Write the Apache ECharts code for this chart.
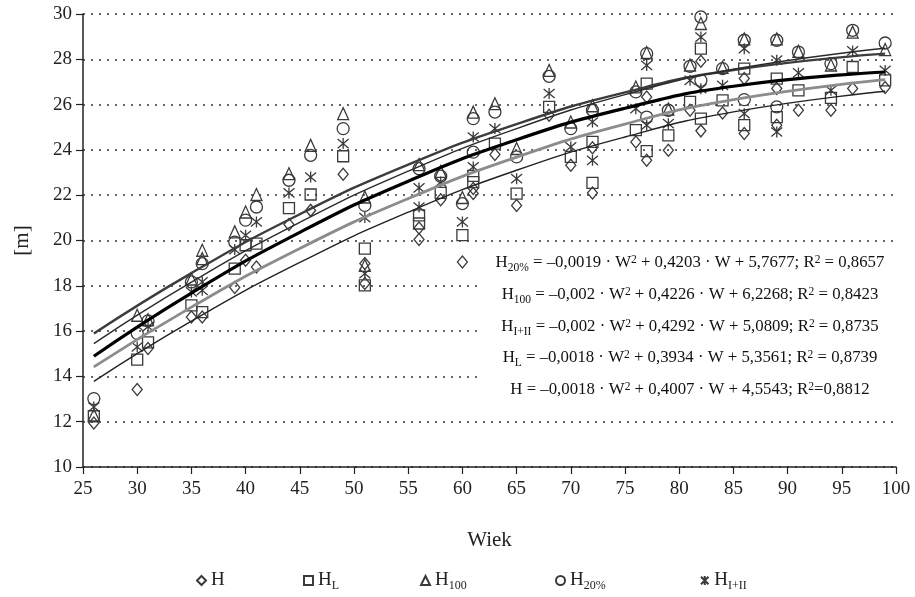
<!DOCTYPE html>
<html><head><meta charset="utf-8">
<script src="https://cdn.jsdelivr.net/npm/echarts@6/dist/echarts.min.js"></script>
<style>html,body{margin:0;padding:0;background:#fff}#c{width:915px;height:597px}</style>
</head><body><div id="c"></div>
<script>
const FONT = '"Liberation Serif", "DejaVu Serif", "Times New Roman", serif';

// Measured points [Wiek, height m]
const H = [[26,11.94],[30,13.42],[31,15.23],[35,16.62],[36,16.62],[39,17.92],[40,19.13],[41,18.83],[44,20.71],[46,21.33],[49,22.92],[51,18.98],[51,18.1],[56,20.55],[56,20.04],[58,21.8],[60,19.05],[61,22.3],[61,22.07],[63,23.8],[65,21.55],[68,25.53],[70,23.32],[72,24.1],[72,22.1],[76,24.35],[77,26.34],[77,23.54],[79,23.98],[81,25.75],[82,27.91],[82,24.84],[84,25.63],[86,27.15],[86,24.72],[89,26.71],[89,25.09],[91,25.75],[94,25.75],[96,26.71],[99,26.75]];
const HL = [[26,12.24],[30,14.74],[31,15.5],[35,17.14],[36,16.84],[39,18.76],[40,19.79],[41,19.86],[44,21.43],[46,22.03],[49,23.72],[51,19.64],[51,18.02],[56,21.11],[56,20.75],[58,22.1],[60,20.24],[61,22.85],[61,22.58],[63,24.28],[65,22.07],[68,25.9],[70,23.69],[72,24.35],[72,22.54],[76,24.87],[77,26.93],[77,23.95],[79,24.64],[81,26.12],[82,28.47],[82,25.38],[84,26.19],[86,27.59],[86,25.09],[89,27.15],[89,25.45],[91,26.63],[94,26.3],[96,27.66],[99,27.07]];
const H100 = [[26,12.3],[30,16.7],[31,16.5],[35,18.3],[36,19.57],[36,19.2],[39,20.38],[40,21.26],[41,22.03],[44,22.95],[46,24.2],[49,25.6],[51,21.92],[51,18.9],[56,23.35],[58,23.05],[60,21.9],[61,25.67],[63,26.04],[65,24.06],[68,27.51],[70,25.23],[72,25.95],[76,26.78],[77,28.3],[79,25.8],[81,27.75],[82,29.58],[84,27.65],[86,28.9],[89,28.9],[91,28.35],[94,27.75],[96,29.2],[99,28.43]];
const H20 = [[26,13.02],[30,15.9],[31,16.45],[35,18.17],[36,18.98],[39,19.93],[40,20.9],[41,21.48],[44,22.66],[46,23.76],[49,24.94],[51,21.55],[56,23.17],[58,22.84],[60,21.63],[61,25.38],[61,23.9],[63,25.67],[65,23.69],[68,27.25],[70,24.94],[72,25.75],[76,26.56],[77,28.25],[77,25.45],[79,25.75],[81,27.69],[82,29.87],[82,27.07],[84,27.59],[86,28.84],[86,26.22],[89,28.84],[89,25.9],[91,28.32],[94,27.81],[96,29.28],[99,28.72]];
const HI = [[26,12.65],[30,15.3],[31,16.2],[35,17.73],[36,18.17],[36,17.8],[39,19.6],[40,20.23],[41,20.82],[44,22.1],[46,22.8],[49,24.28],[51,21.01],[51,18.54],[56,22.32],[56,21.48],[58,22.58],[60,20.82],[61,24.57],[61,23.25],[63,24.94],[65,22.73],[68,26.49],[70,24.13],[72,25.23],[72,23.54],[76,25.82],[77,27.73],[77,25.09],[79,25.16],[81,27.07],[82,28.98],[82,26.7],[84,26.85],[86,28.47],[86,25.6],[89,27.96],[89,24.79],[91,27.4],[94,26.63],[96,28.37],[99,27.51]];

// Trend lines
const fitW     = [26, 35, 45, 55, 65, 75, 85, 99];
const fitH100  = [15.89, 18.56, 21.16, 23.35, 25.14, 26.54, 27.53, 28.25];
const fitH20   = [15.45, 18.16, 20.80, 23.06, 24.94, 26.44, 27.56, 28.49];
const fitHI    = [14.89, 17.68, 20.36, 22.62, 24.45, 25.84, 26.81, 27.44];
const fitHL    = [14.42, 17.06, 19.65, 21.85, 23.68, 25.14, 26.22, 27.10];
const fitH     = [13.78, 16.44, 19.03, 21.25, 23.10, 24.57, 25.68, 26.59];

const yTicks = {min: 10, max: 30, interval: 2};
const xTicks = {min: 25, max: 100, interval: 5};

const equations = [
  '{t|H}{sub|20%}{t| = –0,0019 · W}{sup|2}{t| + 0,4203 · W + 5,7677; R}{sup|2}{t| = 0,8657}',
  '{t|H}{sub|100}{t| = –0,002 · W}{sup|2}{t| + 0,4226 · W + 6,2268; R}{sup|2}{t| = 0,8423}',
  '{t|H}{sub|I+II}{t| = –0,002 · W}{sup|2}{t| + 0,4292 · W + 5,0809; R}{sup|2}{t| = 0,8735}',
  '{t|H}{sub|L}{t| = –0,0018 · W}{sup|2}{t| + 0,3934 · W + 5,3561; R}{sup|2}{t| = 0,8739}',
  '{t|H = –0,0018 · W}{sup|2}{t| + 0,4007 · W + 4,5543; R}{sup|2}{t|=0,8812}'
];

const legendNames = ['H', 'HL', 'H100', 'H20%', 'HI+II'];
const legendLabels = {'H':'{b|H}', 'HL':'{b|H}{s|L}', 'H100':'{b|H}{s|100}', 'H20%':'{b|H}{s|20%}', 'HI+II':'{b|H}{s|I+II}'};
const legendLeft = [191, 298, 415, 550, 695];

const STAR = 'path://M0,0L10,10M10,0L0,10M5,-1L5,11';
const mk = '#3a3a3a';
function scat(name, data, symbol, size) {
  return {
    name, type: 'scatter', data, symbol, symbolSize: size, z: 3,
    itemStyle: {color: 'rgba(0,0,0,0)', borderColor: mk, borderWidth: 1.3, opacity: 1},
    emphasis: {disabled: true}
  };
}
function fit(name, ys, color, width) {
  return {
    name, type: 'line', data: fitW.map((w, i) => [w, ys[i]]), smooth: true, showSymbol: false,
    symbol: 'none', z: 4, lineStyle: {color, width}, itemStyle: {color}, emphasis: {disabled: true}
  };
}

const richLegend = {
  b: {fontFamily: FONT, fontSize: 19, color: '#222', lineHeight: 22},
  s: {fontFamily: FONT, fontSize: 12, color: '#222', lineHeight: 12, verticalAlign: 'bottom', padding: [8, 0, 0, 0]}
};

const richEq = {
  t: {fontFamily: FONT, fontSize: 16.8, color: '#111', lineHeight: 20},
  sub: {fontFamily: FONT, fontSize: 11.5, color: '#111', lineHeight: 11, padding: [9, 0, 0, 0]},
  sup: {fontFamily: FONT, fontSize: 11.5, color: '#111', lineHeight: 11, padding: [0, 0, 7, 0]}
};

const eqY = [263, 295, 327, 358, 390];

const chart = echarts.init(document.getElementById('c'));
chart.setOption({
  animation: false,
  backgroundColor: '#fff',
  grid: {left: 83, right: 19, top: 14, bottom: 130, containLabel: false},
  xAxis: {
    type: 'value', min: xTicks.min, max: xTicks.max, interval: xTicks.interval,
    name: 'Wiek', nameLocation: 'middle', nameGap: 63,
    nameTextStyle: {fontFamily: FONT, fontSize: 21, color: '#222'},
    axisLine: {lineStyle: {color: '#222', width: 1.5}},
    axisTick: {show: true, length: 7, lineStyle: {color: '#222', width: 1.2}},
    axisLabel: {fontFamily: FONT, fontSize: 19, color: '#222', margin: 13},
    splitLine: {show: false}
  },
  yAxis: {
    type: 'value', min: yTicks.min, max: yTicks.max, interval: yTicks.interval,
    name: '[m]', nameLocation: 'middle', nameGap: 50, nameRotate: 90,
    nameTextStyle: {fontFamily: FONT, fontSize: 21, color: '#222'},
    axisLine: {show: true, lineStyle: {color: '#222', width: 1.5}},
    axisTick: {show: true, length: 7, lineStyle: {color: '#222', width: 1.2}},
    axisLabel: {fontFamily: FONT, fontSize: 19, color: '#222', margin: 11},
    splitLine: {show: true, lineStyle: {color: '#333', width: 1.5, type: [2, 6]}}
  },
  legend: legendNames.map((n, i) => ({
    data: [n], left: legendLeft[i], top: 566, itemWidth: 9, itemHeight: 9, itemGap: 0,
    formatter: name => legendLabels[name],
    textStyle: {fontFamily: FONT, fontSize: 19, color: '#222', rich: richLegend},
    selectedMode: false
  })),
  series: [
    fit('fitH100', fitH100, '#3c3c3c', 2.4),
    fit('fitH20', fitH20, '#2a2a2a', 1.4),
    fit('fitHI', fitHI, '#000000', 3.2),
    fit('fitHL', fitHL, '#8c8c8c', 2.8),
    fit('fitH', fitH, '#222222', 1.4),
    scat('H', H, 'diamond', [10, 12]),
    scat('HL', HL, 'rect', 11),
    scat('H100', H100, 'triangle', [11, 12]),
    scat('H20%', H20, 'circle', 12),
    scat('HI+II', HI, STAR, 11)
  ],
  graphic: [
    {type: 'rect', z: 100, shape: {x: 477, y: 244, width: 430, height: 166}, style: {fill: '#fff'}},
    ...equations.map((t, i) => ({
      type: 'text', z: 101, x: 690, y: eqY[i],
      style: {text: t, align: 'center', verticalAlign: 'middle', rich: richEq, fill: '#111', font: '16.8px ' + FONT}
    }))
  ]
});
</script>
</body></html>
